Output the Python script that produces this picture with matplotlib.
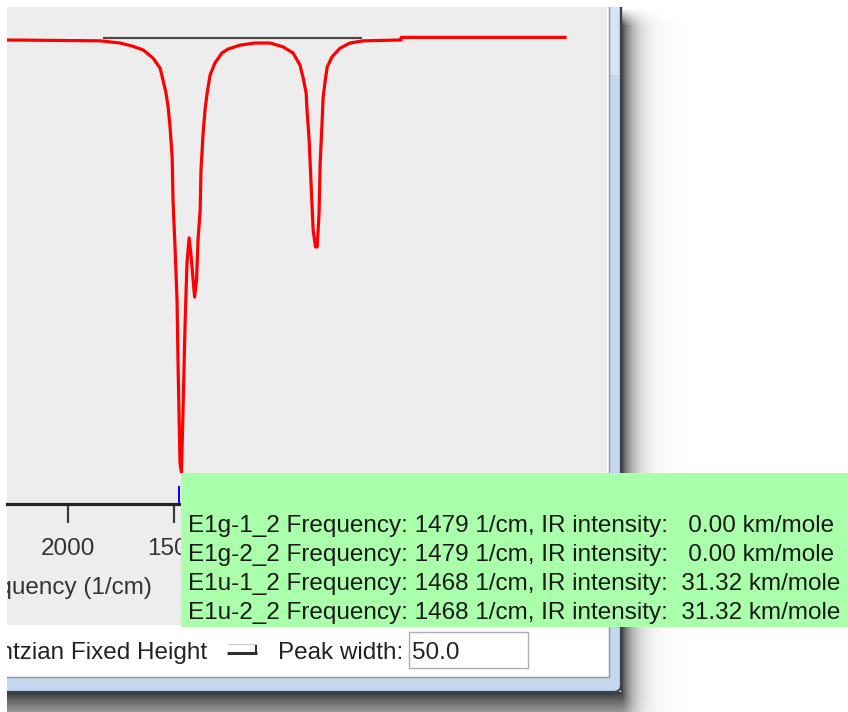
import numpy as np
import matplotlib.pyplot as plt
from matplotlib.patches import Rectangle, FancyBboxPatch

# IR spectrum trace (1/cm, relative intensity, 1 = deepest peak)
freq = [2288, 1849, 1755, 1698, 1646, 1599, 1566, 1552, 1538, 1528, 1519, 1509,
        1505, 1495, 1486, 1481, 1476, 1472, 1465, 1458, 1448, 1439, 1429, 1420,
        1410, 1403, 1394, 1387, 1377, 1373, 1363, 1354, 1344, 1330, 1307, 1274,
        1245, 1189, 1118, 1047, 986, 939, 906, 891, 877, 873, 863, 854, 844, 833,
        825, 816, 811, 802, 797, 788, 778, 755, 717, 670, 608, 429, 429, -344]
intensity = [0, 0.002, 0.007, 0.014, 0.023, 0.042, 0.065, 0.093, 0.123, 0.155, 0.201, 0.271,
             0.370, 0.486, 0.602, 0.757, 0.880, 0.979, 1.0, 0.863, 0.655, 0.516, 0.458, 0.498,
             0.556, 0.595, 0.556, 0.463, 0.394, 0.301, 0.215, 0.162, 0.123, 0.081, 0.053, 0.030,
             0.021, 0.012, 0.007, 0.007, 0.016, 0.030, 0.058, 0.088, 0.123, 0.162, 0.231, 0.331,
             0.440, 0.479, 0.479, 0.400, 0.285, 0.192, 0.134, 0.097, 0.063, 0.039, 0.019, 0.007,
             0.002, 0, -0.006, -0.006]

# dark reference line under the trace
ref_freq = [1835, 613]
ref_level = [-0.0035, -0.0035]

selected_freq = 1479
# only these ticks are visible; the rest of the axis is under the tooltip
tick_values = [2000, 1500]

# tooltip contents
modes = ['E1g-1_2', 'E1g-2_2', 'E1u-1_2', 'E1u-2_2']
mode_freq = [1479, 1479, 1468, 1468]
mode_ir = [0.00, 0.00, 31.32, 31.32]

peak_width = 50.0

W, H = 848, 712
FS = 17.5
plt.rcParams['font.family'] = ['Liberation Sans', 'DejaVu Sans']

fig = plt.figure(figsize=(W / 100, H / 100), dpi=100)


def pixel_axes(z):
    ax = fig.add_axes([0, 0, 1, 1], zorder=z)
    ax.set_xlim(0, W)
    ax.set_ylim(H, 0)
    ax.axis('off')
    return ax


bg = pixel_axes(0)

# window drop shadow
yy, xx = np.mgrid[0:H, 0:W] + 0.5
d = np.hypot(np.clip(xx - 621, 0, None) / 12, np.clip(yy - 692, 0, None) / 30)
alpha = np.where(d > 0, 0.8 * np.exp(-d), 0) * np.clip((yy - 8) / 18, 0, 1)
shadow = np.zeros((H, W, 4))
shadow[..., 3] = alpha
bg.imshow(shadow, extent=(0, W, H, 0), aspect='auto', zorder=1)
bg.set_xlim(0, W)
bg.set_ylim(H, 0)

# window frame, panel and plot area
bg.add_patch(FancyBboxPatch((-30, -30), 651, 722, boxstyle='round,pad=0,rounding_size=7',
                            fc='#C4D7EE', ec='#39424E', lw=1.6, zorder=2))
bg.add_patch(Rectangle((609, 0), 10, 75, fc='#D6E4F3', ec='none', zorder=2))
bg.add_patch(Rectangle((-30, -30), 639, 707, fc='white', ec='#8E98A3', lw=1, zorder=3))
bg.add_patch(Rectangle((7, 7), 600, 618, fc='#EDEDED', ec='none', zorder=4))
bg.add_patch(Rectangle((0, 0), W, 7, fc='white', ec='none', zorder=5))
bg.add_patch(Rectangle((0, 0), 7, H, fc='white', ec='none', zorder=5))

# spectrum
sp = fig.add_axes([7 / W, 1 - 504 / H, 600 / W, 496 / H], zorder=1)
sp.patch.set_visible(False)
sp.set_xlim(2288, -542)
sp.set_ylim(1.074, -0.074)
for s in ['top', 'left', 'right']:
    sp.spines[s].set_visible(False)
sp.spines['bottom'].set_linewidth(2.3)
sp.spines['bottom'].set_color('#222222')
sp.set_yticks([])
sp.set_xticks(tick_values)
sp.tick_params(axis='x', length=13.7, width=1.6, color='#3A3A3A', pad=10.5,
               labelsize=FS, labelcolor='#333333')
sp.plot(ref_freq, ref_level, color='#4A4A4A', lw=1.6, solid_capstyle='butt')
sp.plot(freq, intensity, color='red', lw=2.3)
sp.plot([selected_freq, selected_freq], [1.035, 1.074], color='blue', lw=1.4)

# overlay: tooltip and controls
ui = pixel_axes(2)
clip = Rectangle((7, 0), W - 7, H, transform=ui.transData)

xl = ui.text(152, 594, 'Frequency (1/cm)', ha='right', va='baseline', fontsize=FS,
             color='#333333', clip_on=True)
xl.set_clip_path(clip)

ui.add_patch(Rectangle((181, 473), 700, 154, fc='#AAFFAA', ec='none'))
for i in range(len(modes)):
    ui.text(188, 532 + 29 * i,
            f'{modes[i]} Frequency: {mode_freq[i]} 1/cm, IR intensity: {mode_ir[i]:6.2f} km/mole',
            va='baseline', fontsize=FS, color='#1A1A1A')

lt = ui.text(207, 659, 'Lorentzian Fixed Height', ha='right', va='baseline', fontsize=FS,
             color='#222222', clip_on=True)
lt.set_clip_path(clip)

# small toggle widget
ui.plot([228, 256], [644, 644], color='#C8C8C8', lw=0.8)
ui.plot([227, 257], [652.5, 652.5], color='#303030', lw=2.2, solid_capstyle='butt')
ui.plot([256, 256], [645, 653.5], color='#303030', lw=1.5, solid_capstyle='butt')

ui.text(278, 659, 'Peak width:', va='baseline', fontsize=FS, color='#222222')
ui.add_patch(Rectangle((409, 632), 119, 36, fc='white', ec='#ABADB3', lw=1))
ui.text(412, 659, f'{peak_width:.1f}', va='baseline', fontsize=FS, color='#222222')

fig.savefig('out.png', dpi=100)
